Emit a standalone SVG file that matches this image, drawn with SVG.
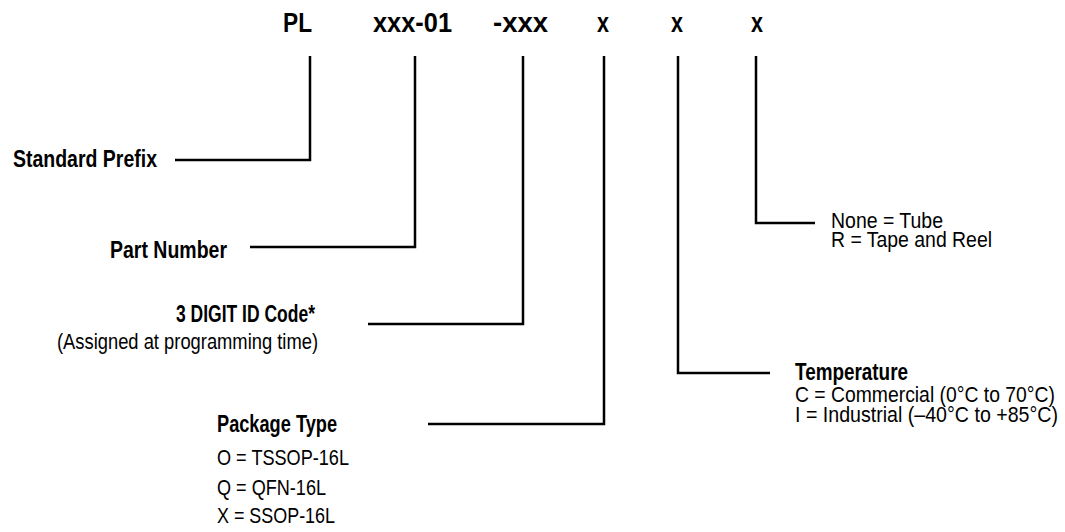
<svg xmlns="http://www.w3.org/2000/svg" width="1065" height="532" viewBox="0 0 1065 532">
<style>
text{font-family:"Liberation Sans",Arial,sans-serif;fill:#000}
.top{font-size:27px;font-weight:bold}
.b{font-size:23.5px;font-weight:bold}
.r{font-size:22px}
.ln{fill:none;stroke:#000;stroke-width:2.5;stroke-linejoin:miter}
</style>
<rect width="1065" height="532" fill="#fff"/>
<g id="code">
<text class="top" x="283" y="32" textLength="29" lengthAdjust="spacingAndGlyphs">PL</text>
<text class="top" x="373" y="32" textLength="79" lengthAdjust="spacingAndGlyphs">xxx-01</text>
<text class="top" x="493" y="32" textLength="55" lengthAdjust="spacingAndGlyphs">-xxx</text>
<text class="top" x="597" y="32" textLength="12" lengthAdjust="spacingAndGlyphs">x</text>
<text class="top" x="671" y="32" textLength="12" lengthAdjust="spacingAndGlyphs">x</text>
<text class="top" x="751" y="32" textLength="12" lengthAdjust="spacingAndGlyphs">x</text>
</g>
<g id="connectors">
<polyline class="ln" points="310,56 310,160 175,160"/>
<polyline class="ln" points="415,56 415,247 250,247"/>
<polyline class="ln" points="523,56 523,324 368,324"/>
<polyline class="ln" points="604,56 604,424 428,424"/>
<polyline class="ln" points="678,56 678,373 770,373"/>
<polyline class="ln" points="756,56 756,223 815,223"/>
</g>
<g id="standard-prefix">
<text class="b" x="13" y="167" textLength="144" lengthAdjust="spacingAndGlyphs">Standard Prefix</text>
</g>
<g id="part-number">
<text class="b" x="110" y="258" textLength="117" lengthAdjust="spacingAndGlyphs">Part Number</text>
</g>
<g id="id-code">
<text class="b" x="176" y="322" textLength="139" lengthAdjust="spacingAndGlyphs">3 DIGIT ID Code*</text>
<text class="r" x="57" y="349" textLength="261" lengthAdjust="spacingAndGlyphs">(Assigned at programming time)</text>
</g>
<g id="package-type">
<text class="b" x="217" y="432" textLength="120" lengthAdjust="spacingAndGlyphs">Package Type</text>
<text class="r" x="217" y="465" textLength="132" lengthAdjust="spacingAndGlyphs">O = TSSOP-16L</text>
<text class="r" x="217" y="495" textLength="109" lengthAdjust="spacingAndGlyphs">Q = QFN-16L</text>
<text class="r" x="217" y="523" textLength="118" lengthAdjust="spacingAndGlyphs">X = SSOP-16L</text>
</g>
<g id="temperature">
<text class="b" x="795" y="380" textLength="113" lengthAdjust="spacingAndGlyphs">Temperature</text>
<text class="r" x="795" y="402" textLength="260" lengthAdjust="spacingAndGlyphs">C = Commercial (0°C to 70°C)</text>
<text class="r" x="795" y="422" textLength="263" lengthAdjust="spacingAndGlyphs">I = Industrial (–40°C to +85°C)</text>
</g>
<g id="packing">
<text class="r" x="831" y="228" textLength="112" lengthAdjust="spacingAndGlyphs">None = Tube</text>
<text class="r" x="831" y="247" textLength="161" lengthAdjust="spacingAndGlyphs">R = Tape and Reel</text>
</g>
</svg>
